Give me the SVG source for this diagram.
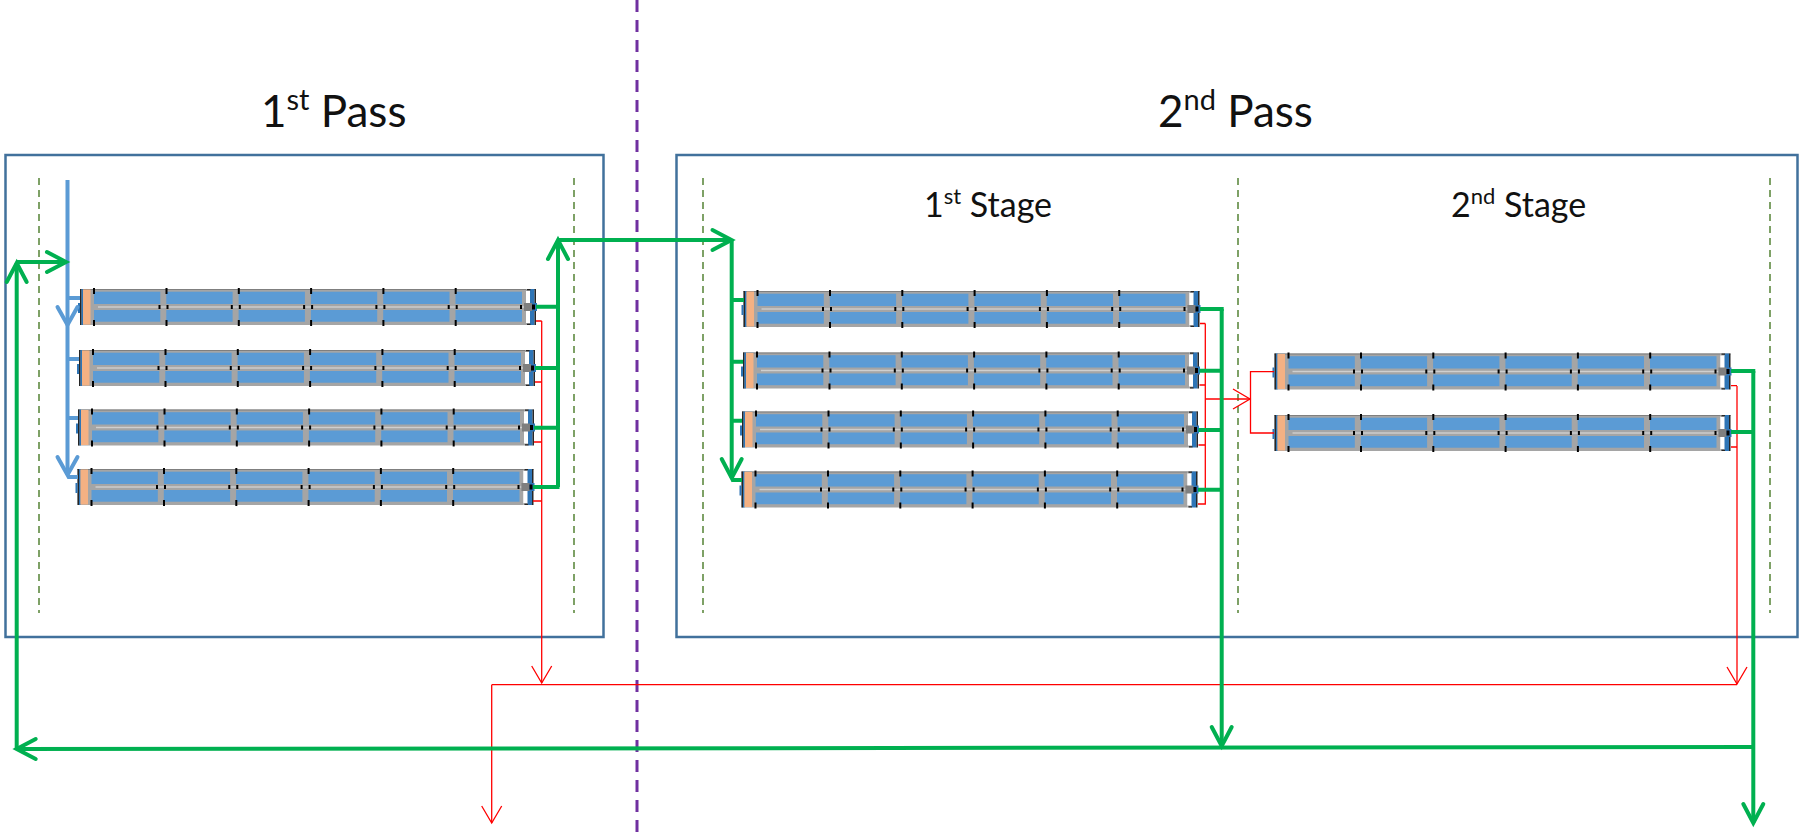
<svg xmlns="http://www.w3.org/2000/svg" xmlns:xlink="http://www.w3.org/1999/xlink" width="1800" height="836" viewBox="0 0 1800 836">
<style>
text{font-family:"Lato","Liberation Sans",sans-serif;fill:#111}
.t1{font-size:44px}.t2{font-size:34px}
.frame{fill:none;stroke:#41719C;stroke-width:2.5}
.div{fill:none;stroke:#548235;stroke-width:1.5;stroke-dasharray:7 5}
.mid{fill:none;stroke:#7030A0;stroke-width:3;stroke-dasharray:12 8}
.g{fill:none;stroke:#00B050;stroke-width:4}
.b{fill:none;stroke:#5B9BD5;stroke-width:4}
.r{fill:none;stroke:#FF0000;stroke-width:1.3}
.ga{marker-end:url(#ag)}.ba{marker-end:url(#ab)}.ra{marker-end:url(#ar)}
.body{fill:#A5A5A5}.cell{fill:#5B9BD5}.blk{fill:#000}.dk{fill:#262626}.pb{fill:#2E75B6}
</style>
<defs>
<marker id="ag" markerUnits="userSpaceOnUse" viewBox="-26 -16 32 32" refX="0" refY="0" markerWidth="32" markerHeight="32" orient="auto"><path d="M-19,-10 L0,0 L-19,10" fill="none" stroke="#00B050" stroke-width="4" stroke-linecap="round"/></marker>
<marker id="ab" markerUnits="userSpaceOnUse" viewBox="-26 -16 32 32" refX="0" refY="0" markerWidth="32" markerHeight="32" orient="auto"><path d="M-18,-10 L0,0 L-18,10" fill="none" stroke="#5B9BD5" stroke-width="4" stroke-linecap="round"/></marker>
<marker id="ar" markerUnits="userSpaceOnUse" viewBox="-26 -16 32 32" refX="0" refY="0" markerWidth="32" markerHeight="32" orient="auto"><path d="M-17,-10 L0,0 L-17,10" fill="none" stroke="#FF0000" stroke-width="1.3"/></marker>
<g id="module">
<rect class="body" x="0" y="0" width="446" height="36"/>
<rect x="0" y="0" width="456" height="1" fill="#7F7F7F"/>
<rect class="dk" x="0" y="0" width="1.5" height="36"/>
<rect class="pb" x="1.5" y="0" width="1.5" height="36"/>
<rect class="pb" x="-2" y="14" width="2" height="10"/>
<rect x="3" y="0.5" width="7.5" height="35" fill="#F4B183"/>
<g class="cell">
<rect x="14" y="2.7" width="66.3" height="12.3"/><rect x="14" y="21" width="66.3" height="11.7"/>
<rect x="86.3" y="2.7" width="66.3" height="12.3"/><rect x="86.3" y="21" width="66.3" height="11.7"/>
<rect x="158.6" y="2.7" width="66.3" height="12.3"/><rect x="158.6" y="21" width="66.3" height="11.7"/>
<rect x="230.9" y="2.7" width="66.3" height="12.3"/><rect x="230.9" y="21" width="66.3" height="11.7"/>
<rect x="303.2" y="2.7" width="66.3" height="12.3"/><rect x="303.2" y="21" width="66.3" height="11.7"/>
<rect x="375.5" y="2.7" width="66.5" height="12.3"/><rect x="375.5" y="21" width="66.5" height="11.7"/>
</g>
<rect x="18" y="17.3" width="426" height="1.4" fill="#CFCFCF"/>
<g class="blk">
<rect x="13" y="-1" width="2" height="6"/><rect x="13" y="31" width="2" height="6"/>
<rect x="85.5" y="-1" width="2" height="6"/><rect x="85.5" y="31" width="2" height="6"/>
<rect x="157.8" y="-1" width="2" height="6"/><rect x="157.8" y="31" width="2" height="6"/>
<rect x="230.1" y="-1" width="2" height="6"/><rect x="230.1" y="31" width="2" height="6"/>
<rect x="302.4" y="-1" width="2" height="6"/><rect x="302.4" y="31" width="2" height="6"/>
<rect x="374.7" y="-1" width="2" height="6"/><rect x="374.7" y="31" width="2" height="6"/>
<rect x="78.5" y="16" width="2" height="4"/><rect x="86.5" y="16" width="2" height="4"/>
<rect x="150.8" y="16" width="2" height="4"/><rect x="158.8" y="16" width="2" height="4"/>
<rect x="223.1" y="16" width="2" height="4"/><rect x="231.1" y="16" width="2" height="4"/>
<rect x="295.4" y="16" width="2" height="4"/><rect x="303.4" y="16" width="2" height="4"/>
<rect x="367.7" y="16" width="2" height="4"/><rect x="375.7" y="16" width="2" height="4"/>
<rect x="440" y="16" width="2" height="4"/>
</g>
<rect x="446" y="2" width="4" height="32" fill="#fff"/>
<rect x="446" y="0" width="4" height="2" class="body"/>
<rect x="446" y="34" width="4" height="2" class="body"/>
<rect class="pb" x="450" y="0" width="4.5" height="36"/>
<rect class="dk" x="454.5" y="0" width="1.5" height="36"/>
<rect class="pb" x="454" y="14" width="3" height="8"/>
<rect x="444" y="14" width="8" height="8" fill="#7F7F7F"/>
<rect class="blk" x="452" y="15.5" width="3" height="5"/>
<rect class="dk" x="447" y="0" width="3.5" height="1.3"/>
<rect class="dk" x="447" y="34.7" width="3.5" height="1.3"/>
</g>
</defs>
<rect width="1800" height="836" fill="#fff"/>
<g id="frames">
<rect class="frame" x="5.5" y="155" width="598" height="482"/>
<rect class="frame" x="676.5" y="155" width="1121" height="482"/>
<line class="mid" x1="637" y1="0" x2="637" y2="836"/>
<line class="div" x1="39" y1="178" x2="39" y2="613"/>
<line class="div" x1="574" y1="178" x2="574" y2="613"/>
<line class="div" x1="703" y1="178" x2="703" y2="613"/>
<line class="div" x1="1238" y1="178" x2="1238" y2="613"/>
<line class="div" x1="1770" y1="178" x2="1770" y2="613"/>
</g>
<g id="labels">
<text id="label-pass-1" class="t1" x="261" y="127">1<tspan font-size="29" dy="-17">st</tspan><tspan dy="17"> Pass</tspan></text>
<text id="label-pass-2" class="t1" x="1158" y="127">2<tspan font-size="29" dy="-17">nd</tspan><tspan dy="17"> Pass</tspan></text>
<text id="label-stage-1" class="t2" x="924" y="217">1<tspan font-size="22" dy="-13">st</tspan><tspan dy="13"> Stage</tspan></text>
<text id="label-stage-2" class="t2" x="1451" y="217">2<tspan font-size="22" dy="-13">nd</tspan><tspan dy="13"> Stage</tspan></text>
</g>
<g id="p1-row1"><use href="#module" x="80" y="289"/></g>
<g id="p1-row2"><use href="#module" x="79" y="350"/></g>
<g id="p1-row3"><use href="#module" x="78" y="409.5"/></g>
<g id="p1-row4"><use href="#module" x="77.5" y="469"/></g>
<g id="p2s1-row1"><use href="#module" x="743.5" y="291"/></g>
<g id="p2s1-row2"><use href="#module" x="743" y="352.5"/></g>
<g id="p2s1-row3"><use href="#module" x="742" y="411.5"/></g>
<g id="p2s1-row4"><use href="#module" x="741.5" y="471.5"/></g>
<g id="p2s2-row1"><use href="#module" x="1274.5" y="353.5"/></g>
<g id="p2s2-row2"><use href="#module" x="1274.5" y="415"/></g>
<g id="connectors">
<path class="b ba" d="M67.5,180V325"/>
<path class="b ba" d="M67.5,325V475"/>
<path class="b" d="M67.5,298H80M67.5,359H79M67.5,418H78M67.5,477H78"/>
<path class="r" d="M536,321H541.7M535,382H541.7M534,442H541.7M533,501H541.7"/>
<path class="r ra" d="M541.7,321V683"/>
<path class="r" d="M491.7,684.7H1737"/>
<path class="r ra" d="M491.7,684.7V823"/>
<path class="r" d="M1200,323.5H1205.3M1199.5,385H1205.3M1198.5,445H1205.3M1198,504H1205.3V323.5"/>
<path class="r ra" d="M1205.3,399H1250"/>
<path class="r" d="M1274,371.7H1250.5V433H1274"/>
<path class="r" d="M1731,385.7H1737M1731,447H1737"/>
<path class="r ra" d="M1737,386V684"/>
<path class="g" d="M536,306.7H558M535,368H558M534,427.7H558M533,487H559.5"/>
<path class="g ga" d="M558,487V240"/>
<path class="g ga" d="M558,240H731.5"/>
<path class="g ga" d="M731.7,240V478"/>
<path class="g" d="M731.7,300H744M731.7,361.7H743M731.7,420.7H742M731.7,480H742"/>
<path class="g" d="M1200,309H1223.7M1199.5,370.7H1221.7M1198.5,430H1221.7M1198,489.7H1221.7"/>
<path class="g ga" d="M1221.7,309V746"/>
<path class="g" d="M1731,371H1755.3M1731,432H1753.3"/>
<path class="g ga" d="M1753.3,371V823"/>
<path class="g ga" d="M1753.3,747L16.7,749"/>
<path class="g ga" d="M16.7,749V263"/>
<path class="g ga" d="M16.7,262H66"/>
</g>
</svg>
